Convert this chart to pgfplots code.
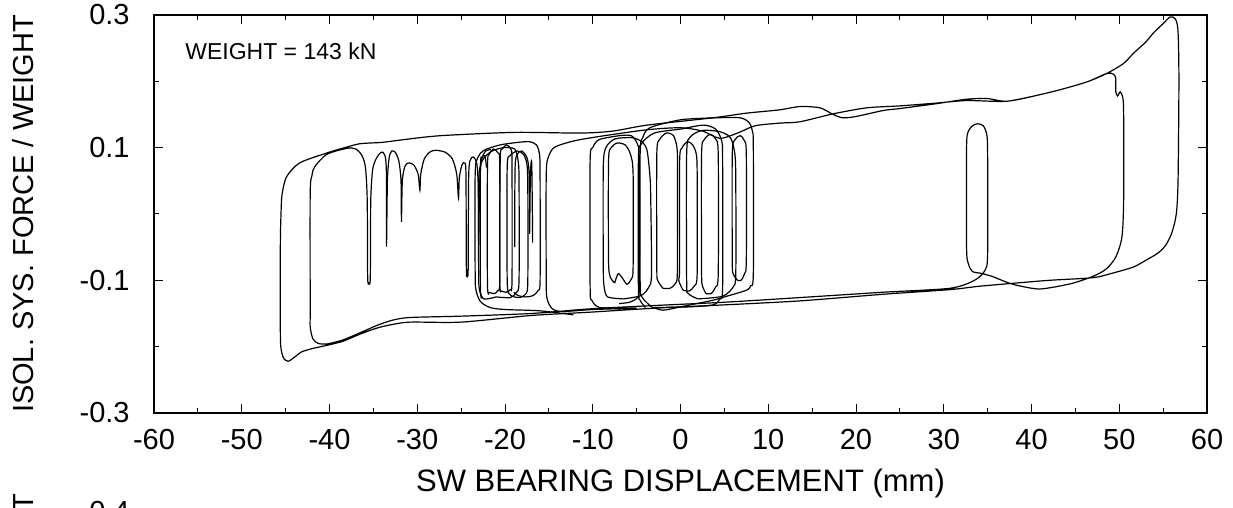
\documentclass[border=0pt]{standalone}
\usepackage{fontspec}
\setmainfont{Liberation Sans}
\usepackage{pgfplots}
\pgfplotsset{compat=1.18}

\pgfplotsset{hyst/.style={black, line width=0.6pt, mark=none, smooth, tension=0.45}}
\newcommand{\tickfont}{\fontsize{14.5}{16}\selectfont}
\newcommand{\lblfont}{\fontsize{15.5}{17}\selectfont}

\begin{document}
\begin{tikzpicture}
\begin{axis}[
  at={(0,0)}, anchor=south west,
  scale only axis, width=526.5pt, height=199pt,
  xmin=-60, xmax=60, ymin=-0.3, ymax=0.3,
  axis line style={line width=0.6pt},
  tick align=inside,
  major tick length=4.5pt, minor tick length=2.5pt,
  every tick/.append style={line width=0.5pt, black},
  xtick={-60,-50,...,60},
  xticklabels={-60,-50,-40,-30,-20,-10,0,10,20,30,40,50,60},
  minor xtick={-55,-45,...,55},
  ytick={-0.3,-0.1,0.1,0.3},
  yticklabels={-0.3,-0.1,0.1,0.3},
  minor ytick={-0.2,0,0.2},
  xticklabel style={font=\tickfont, anchor=base, inner sep=0pt, yshift=-18.5pt},
  yticklabel style={font=\tickfont, anchor=east, inner sep=0pt, xshift=-12pt},
  xlabel={SW BEARING DISPLACEMENT (mm)},
  ylabel={ISOL. SYS. FORCE / WEIGHT},
  xlabel style={font=\lblfont, at={(axis description cs:0.5,0)}, anchor=base, inner sep=0pt, yshift=-39.5pt},
  ylabel style={font=\tickfont, at={(axis description cs:-0.1245,0.5)}, anchor=center, inner sep=0pt},
]
% main path: large excursions (+56 / -45.5 / +50.5 / -42.2) with spikes
\addplot[hyst] coordinates {
(-5,-0.142) (-10,-0.144) (-13.4,-0.147) (-14.6,-0.143) (-15.2,-0.128) (-15.3,-0.10)
(-15.3,0.06) (-15.0,0.088) (-14.3,0.101) (-12.2,0.110) (-9.2,0.117) (-3.8,0.127)
(0,0.130) (2.5,0.125) (4.5,0.114) (6.5,0.122) (8.5,0.133) (11.3,0.137) (13.6,0.139)
(17.4,0.151) (21.2,0.160) (25,0.163) (29,0.167) (32.6,0.171) (37.2,0.170) (41,0.180)
(44,0.190) (46.5,0.200) (48.6,0.212) (50.5,0.227) (51.6,0.242) (53,0.259) (53.9,0.273)
(55,0.287) (55.8,0.297) (56.4,0.294) (56.7,0.275) (56.8,0.2) (56.7,0.05) (56.5,0.0)
(56,-0.028) (55.3,-0.047) (54.4,-0.059) (53,-0.070) (51.6,-0.080) (49,-0.090) (47,-0.096)
(42,-0.100) (38.3,-0.104) (34,-0.109) (30.7,-0.114) (23.1,-0.121) (13.6,-0.131) (5,-0.137)
(-3,-0.142) (-10.3,-0.148) (-17,-0.153) (-25,-0.163) (-30.8,-0.163) (-33,-0.167)
(-34.6,-0.172) (-36.5,-0.181) (-38.5,-0.192) (-40.3,-0.198) (-42,-0.203) (-43.2,-0.208)
(-44,-0.216) (-44.7,-0.222) (-45.2,-0.218) (-45.5,-0.205) (-45.6,-0.18) (-45.6,-0.044)
(-45.5,0.010) (-45.4,0.030) (-44.9,0.056) (-43.4,0.077) (-40.3,0.092) (-38,0.101)
(-36.5,0.106) (-34,0.108) (-31.6,0.112) (-27.4,0.118) (-19,0.123) (-11.4,0.122)
(-7.7,0.125) (-3.8,0.134) (3.7,0.145) (7.5,0.152) (11.3,0.157) (13.6,0.162) (15.9,0.160)
(17.4,0.150) (18.5,0.145) (20,0.147) (23.1,0.156) (25,0.159) (29,0.166) (32.6,0.173)
(35,0.174) (37.2,0.170) (41,0.180) (44,0.190) (46.5,0.200) (48.6,0.212) (49.3,0.211)
(49.6,0.205) (49.6,0.185) (49.8,0.178) (50.1,0.184) (50.4,0.176) (50.5,0.15) (50.5,0.02)
(50.3,-0.035) (49.6,-0.065) (48.5,-0.083) (47,-0.094) (44.5,-0.105) (41,-0.113)
(38.5,-0.108) (37.2,-0.103) (35.5,-0.094) (34.1,-0.089) (33.3,-0.087) (32.8,-0.075)
(32.6,-0.05) (32.6,0.10) (32.8,0.125) (33.4,0.134) (33.9,0.136) (34.5,0.133) (34.9,0.12)
(35.0,0.09) (35.0,-0.06) (34.7,-0.085) (33.5,-0.100) (30.7,-0.112) (23,-0.118)
(13.6,-0.126) (5,-0.133) (-3,-0.138) (-10.3,-0.143) (-17,-0.150) (-25,-0.154)
(-30.8,-0.156) (-32.8,-0.160) (-34.6,-0.168) (-36.5,-0.179) (-38.5,-0.190) (-40.3,-0.196)
(-41.3,-0.195) (-41.9,-0.188) (-42.2,-0.17) (-42.2,-0.145) (-42.2,0.031) (-42.0,0.058)
(-41.7,0.071) (-40.3,0.090) (-38,0.099) (-37,0.098) (-36.3,0.088) (-35.9,0.07)
(-35.7,0.02) (-35.65,-0.095) (-35.5,-0.104) (-35.35,-0.095) (-35.3,0.02) (-35.1,0.065)
(-34.8,0.080) (-34.3,0.091) (-33.9,0.093) (-33.6,0.083) (-33.5,0.05) (-33.5,-0.049)
(-33.4,0.05) (-33.2,0.085) (-32.9,0.095) (-32.5,0.093) (-32.1,0.08) (-31.85,0.05)
(-31.8,-0.012) (-31.7,0.05) (-31.4,0.072) (-31.0,0.077) (-30.4,0.074) (-29.9,0.06)
(-29.7,0.036) (-29.6,0.06) (-29.2,0.083) (-28.5,0.094) (-27.8,0.096) (-26.8,0.093)
(-26,0.083) (-25.5,0.06) (-25.3,0.024) (-25.2,0.055) (-24.9,0.074) (-24.6,0.077)
(-24.45,0.06) (-24.4,-0.085) (-24.3,-0.089) (-24.2,-0.085) (-24.15,0.05) (-24.0,0.08)
(-23.6,0.086) (-23.2,0.075) (-23.05,0.04) (-23.0,-0.047) (-22.9,0.04) (-22.7,0.08)
(-22.2,0.095) (-21.6,0.097)
};
% loops around -20
\addplot[hyst] coordinates {
(-12.2,-0.152) (-16,-0.146) (-20,-0.144) (-21.7,-0.141) (-22.8,-0.132) (-23.3,-0.115)
(-23.4,-0.09) (-23.4,0.06) (-23.1,0.085) (-22.4,0.096) (-20.6,0.104) (-18.5,0.108)
(-17.2,0.109) (-16.4,0.104) (-16.05,0.088) (-16.0,0.05) (-16.0,-0.10) (-16.2,-0.115)
(-16.8,-0.123) (-17.6,-0.125) (-18.5,-0.123) (-19.0,-0.118)
};
\addplot[hyst] coordinates {
(-21.8,-0.118) (-22.0,-0.105) (-22.0,0.07) (-21.8,0.09) (-21.3,0.098) (-20.8,0.092)
(-20.6,0.075) (-20.6,-0.1) (-20.8,-0.115) (-21.2,-0.12) (-21.8,-0.118)
};
\addplot[hyst] coordinates {
(-20.4,-0.116) (-20.6,-0.10) (-20.55,0.08) (-20.3,0.098) (-19.8,0.104) (-19.3,0.097)
(-19.2,0.075) (-19.2,-0.10) (-19.4,-0.114) (-19.9,-0.118) (-20.4,-0.116)
};
\addplot[hyst] coordinates {
(-19.5,-0.120) (-19.75,-0.10) (-19.75,0.07) (-19.4,0.088) (-18.6,0.095) (-17.9,0.09)
(-17.5,0.075) (-17.4,0.04) (-17.4,-0.10) (-17.6,-0.12) (-18.3,-0.126) (-19.2,-0.124)
(-19.5,-0.120)
};
\addplot[hyst] coordinates {
(-21.0,-0.125) (-22.4,-0.128) (-22.9,-0.115) (-23.0,-0.09) (-23.0,0.05) (-22.6,0.08)
(-21.6,0.094) (-20.2,0.1) (-18.9,0.098) (-18.5,0.08) (-18.4,0.05) (-18.4,-0.10)
(-18.7,-0.118) (-19.4,-0.126) (-21.0,-0.125)
};
\addplot[hyst] coordinates {
(-18.9,-0.05) (-18.85,0.07) (-18.6,0.09) (-18.1,0.095) (-17.5,0.085) (-17.25,0.06)
(-17.2,-0.03) (-17.1,0.06) (-16.95,0.075) (-16.85,-0.043)
};
\addplot[hyst] coordinates {
(-22.6,-0.125) (-22.8,-0.11) (-22.8,0.07) (-22.6,0.085) (-22.3,0.088) (-22.1,0.07)
};
% centre cluster
\addplot[hyst] coordinates {
(-6,-0.142) (-9.2,-0.141) (-10.1,-0.13) (-10.3,-0.11) (-10.3,0.08) (-10.0,0.1)
(-9.3,0.112) (-7,0.118) (-5.6,0.118) (-4.9,0.105) (-4.7,0.08) (-4.7,-0.11)
(-4.9,-0.126) (-5.8,-0.133) (-7,-0.135)
};
\addplot[hyst] coordinates {
(-4.0,-0.141) (-4.6,-0.13) (-4.8,-0.11) (-4.8,0.08) (-4.5,0.105) (-3,0.122) (0,0.128)
(2.6,0.134) (4.0,0.128) (4.7,0.11) (4.8,0.08) (4.8,-0.11) (4.5,-0.128) (3.7,-0.137)
(1,-0.14) (-3,-0.141)
};
\addplot[hyst] coordinates {
(-3.3,-0.14) (-4.4,-0.125) (-4.6,-0.10) (-4.6,0.09) (-4.3,0.115) (-3.5,0.130) (0,0.142)
(4,0.145) (6.8,0.145) (7.8,0.138) (8.2,0.125) (8.3,0.10) (8.3,-0.09) (8.0,-0.108)
(7.5,-0.115) (5,-0.125) (3.7,-0.13) (0,-0.14) (-2,-0.145) (-3.3,-0.14)
};
\addplot[hyst] coordinates {
(-7.5,-0.104) (-8.0,-0.095) (-8.2,-0.07) (-8.2,0.08) (-7.9,0.1) (-7.2,0.107)
(-6.3,0.104) (-5.7,0.09) (-5.4,0.06) (-5.4,-0.08) (-5.6,-0.098) (-6.1,-0.106)
(-6.6,-0.097) (-7.1,-0.09) (-7.5,-0.104)
};
\addplot[hyst] coordinates {
(-6.5,-0.128) (-8.3,-0.125) (-8.7,-0.11) (-8.8,-0.08) (-8.8,0.07) (-8.5,0.1) (-7.5,0.113)
(-5.5,0.115) (-4.3,0.108) (-3.8,0.095) (-3.5,0.06) (-3.4,0.03) (-3.3,-0.09)
(-3.6,-0.11) (-4.5,-0.123) (-6.5,-0.128)
};
\addplot[hyst] coordinates {
(-2.0,-0.112) (-2.6,-0.10) (-2.7,-0.08) (-2.7,0.09) (-2.4,0.112) (-1.6,0.122)
(-0.8,0.118) (-0.4,0.1) (-0.35,0.07) (-0.35,-0.085) (-0.6,-0.105) (-1.2,-0.112)
(-2.0,-0.112)
};
\addplot[hyst] coordinates {
(0.3,-0.115) (-0.2,-0.10) (-0.1,-0.08) (-0.1,0.08) (0.2,0.1) (0.8,0.109) (1.4,0.104)
(1.8,0.09) (1.9,0.06) (1.9,-0.09) (1.6,-0.108) (1.0,-0.116) (0.3,-0.115)
};
\addplot[hyst] coordinates {
(2.9,-0.12) (2.5,-0.108) (2.4,-0.085) (2.4,0.09) (2.7,0.112) (3.4,0.12) (4.0,0.113)
(4.3,0.09) (4.3,-0.09) (4.0,-0.11) (3.5,-0.12) (2.9,-0.12)
};
\addplot[hyst] coordinates {
(2.0,-0.128) (0.9,-0.12) (0.7,-0.10) (0.7,0.09) (1.1,0.116) (2.5,0.126) (4.5,0.124)
(5.7,0.115) (6.2,0.09) (6.3,0.05) (6.3,-0.09) (6.0,-0.11) (4.8,-0.124) (2.0,-0.128)
};
\addplot[hyst] coordinates {
(6.5,-0.10) (6.0,-0.09) (5.9,-0.07) (5.9,0.09) (6.2,0.112) (6.8,0.118) (7.3,0.11)
(7.5,0.09) (7.5,-0.07) (7.3,-0.09) (6.9,-0.10) (6.5,-0.10)
};
\node[anchor=base west, inner sep=0pt, font=\fontsize{11.5}{13}\selectfont]
  at (rel axis cs:0.0294,0.887) {WEIGHT = 143 kN};
\end{axis}
% top of the next panel, cut by the page edge
\node[anchor=base east, inner sep=0pt, font=\tickfont] at (-12pt,-54.5pt) {0.4};
\node[rotate=90, anchor=east, inner sep=0pt, font=\tickfont] at (-65.5pt,-40pt) {ISOL. SYS. FORCE / WEIGHT};
\pgfresetboundingbox
\path[use as bounding box] (-77pt,-47.5pt) rectangle (539.5pt,206.5pt);
\end{tikzpicture}
\end{document}
